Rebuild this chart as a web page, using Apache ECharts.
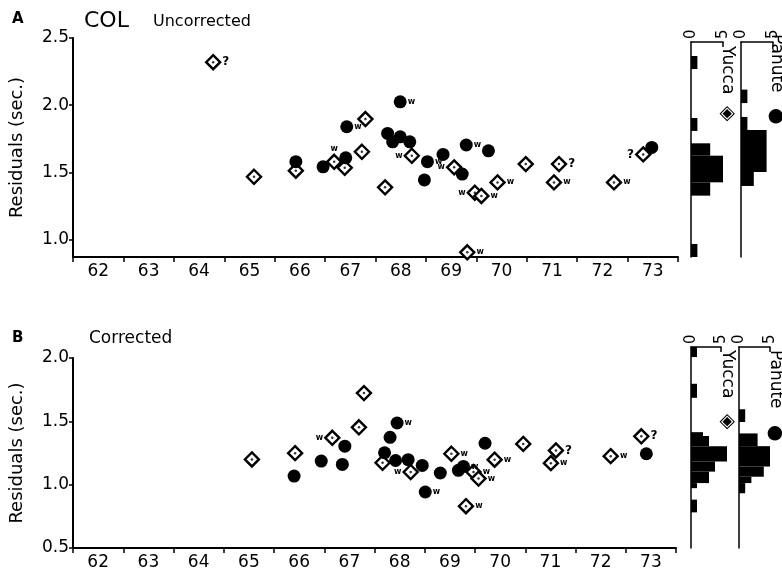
<!DOCTYPE html>
<html>
<head>
<meta charset="utf-8">
<script src="https://cdn.jsdelivr.net/npm/echarts@6/dist/echarts.min.js"></script>
<style>
  html, body { margin: 0; padding: 0; background: #fff; }
  #chart { width: 782px; height: 575px; }
</style>
</head>
<body>
<div id="chart"></div>
<script>
// 年份刻度（刻度在整数年，标签在年中）
const yearTicks = [62, 63, 64, 65, 66, 67, 68, 69, 70, 71, 72, 73, 74];
const yearLabels = [62.5, 63.5, 64.5, 65.5, 66.5, 67.5, 68.5, 69.5, 70.5, 71.5, 72.5, 73.5];
const residTicksA = [1.0, 1.5, 2.0, 2.5];
const residTicksB = [0.5, 1.0, 1.5, 2.0];
const countTicks = [0, 5];

// 点数据：[年份, 残差, 标注, 标注位置]
const yuccaA = [
  [64.78, 2.32, '?', 'right'], [65.59, 1.468, '', ''], [66.42, 1.513, '', ''],
  [67.18, 1.579, 'w', 'top'], [67.39, 1.535, '', ''], [67.73, 1.654, '', ''],
  [67.80, 1.897, '', ''], [68.19, 1.389, '', ''], [68.72, 1.624, 'w', 'left'],
  [69.56, 1.538, 'w', 'left'], [69.97, 1.349, 'w', 'left'], [70.10, 1.325, 'w', 'right'],
  [70.42, 1.426, 'w', 'right'], [70.98, 1.562, '', ''], [71.64, 1.562, '?', 'right'],
  [71.54, 1.426, 'w', 'right'], [72.73, 1.426, 'w', 'right'], [73.31, 1.634, '?', 'left'],
  [69.82, 0.906, 'w', 'right']
];
const pahuteA = [
  [66.42, 1.580, '', ''], [66.96, 1.542, '', ''], [67.43, 1.840, 'w', 'right'],
  [67.41, 1.609, '', ''], [68.49, 2.025, 'w', 'right'], [68.24, 1.790, '', ''],
  [68.34, 1.728, '', ''], [68.49, 1.765, '', ''], [68.68, 1.728, '', ''],
  [69.03, 1.580, 'w', 'right'], [69.34, 1.634, '', ''], [68.97, 1.444, '', ''],
  [69.72, 1.488, '', ''], [69.80, 1.704, 'w', 'right'], [70.24, 1.661, '', ''],
  [73.48, 1.686, '', '']
];
const yuccaB = [
  [64.77, 2.011, '?', 'right'], [65.56, 1.199, '', ''], [66.42, 1.249, '', ''],
  [67.16, 1.370, 'w', 'left'], [67.69, 1.453, '', ''], [67.79, 1.723, '', ''],
  [68.16, 1.173, '', ''], [68.72, 1.100, 'w', 'left'], [69.53, 1.244, 'w', 'right'],
  [69.97, 1.100, 'w', 'right'], [70.07, 1.048, 'w', 'right'], [70.39, 1.197, 'w', 'right'],
  [70.96, 1.322, '', ''], [71.61, 1.270, '?', 'right'], [71.51, 1.170, 'w', 'right'],
  [72.70, 1.225, 'w', 'right'], [73.31, 1.382, '?', 'right'], [69.82, 0.830, 'w', 'right']
];
const pahuteB = [
  [66.40, 1.068, '', ''], [66.94, 1.186, '', ''], [67.36, 1.160, '', ''],
  [67.41, 1.304, '', ''], [68.20, 1.252, '', ''], [68.31, 1.374, '', ''],
  [68.45, 1.487, 'w', 'right'], [68.42, 1.191, '', ''], [68.67, 1.197, '', ''],
  [68.95, 1.152, '', ''], [69.01, 0.942, 'w', 'right'], [69.31, 1.092, '', ''],
  [69.67, 1.113, '', ''], [69.77, 1.144, 'w', 'right'], [70.20, 1.327, '', ''],
  [73.41, 1.244, '', '']
];

// 直方图：[区间上界, 区间下界, 个数]
const yuccaHistA = [
  [2.365, 2.268, 1], [1.904, 1.808, 1], [1.716, 1.624, 3],
  [1.624, 1.426, 5], [1.426, 1.327, 3], [0.968, 0.871, 1]
];
const pahuteHistA = [
  [2.115, 2.015, 1], [1.912, 1.815, 1], [1.815, 1.503, 4], [1.503, 1.399, 2]
];
const yuccaHistB = [
  [2.08, 2.00, 1], [1.79, 1.68, 1], [1.41, 1.38, 2], [1.38, 1.30, 3],
  [1.30, 1.18, 6], [1.18, 1.10, 4], [1.10, 1.01, 3], [1.01, 0.97, 1], [0.88, 0.78, 1]
];
const pahuteHistB = [
  [1.59, 1.49, 1], [1.40, 1.30, 3], [1.30, 1.14, 5], [1.14, 1.06, 4],
  [1.06, 1.01, 2], [1.01, 0.93, 1]
];

const FONT = 'DejaVu Sans';
const chart = echarts.init(document.getElementById('chart'));

function points(rows) {
  return rows.map(r => ({
    value: [r[0], r[1]],
    label: {
      show: r[2] !== '',
      formatter: r[2],
      position: r[3] || 'right',
      distance: 1,
      color: '#000',
      fontFamily: FONT,
      fontWeight: 'bold',
      fontSize: r[2] === '?' ? 12 : 8
    }
  }));
}

function yearAxis(grid) {
  return {
    type: 'value', gridIndex: grid, min: 62, max: 74,
    axisLine: { onZero: false, lineStyle: { color: '#000', width: 2 } },
    axisTick: { customValues: yearTicks, length: 5, lineStyle: { color: '#000', width: 1.5 } },
    axisLabel: {
      customValues: yearLabels, formatter: v => String(Math.floor(v)),
      color: '#000', fontFamily: FONT, fontSize: 17, margin: 6
    },
    splitLine: { show: false }
  };
}

function residAxis(grid, min, max, ticks) {
  return {
    type: 'value', gridIndex: grid, min: min, max: max,
    name: 'Residuals (sec.)', nameLocation: 'middle', nameGap: 47,
    nameTextStyle: { color: '#000', fontFamily: FONT, fontSize: 18 },
    axisLine: { onZero: false, lineStyle: { color: '#000', width: 2 } },
    axisTick: { customValues: ticks, length: 4, lineStyle: { color: '#000', width: 1.5 } },
    axisLabel: {
      customValues: ticks, formatter: v => v.toFixed(1),
      color: '#000', fontFamily: FONT, fontSize: 17, margin: 4
    },
    splitLine: { show: false }
  };
}

function countAxis(grid) {
  return {
    type: 'value', gridIndex: grid, min: 0, max: 5, position: 'top',
    axisLine: { onZero: false, lineStyle: { color: '#000', width: 1.5 } },
    axisTick: { customValues: [5], inside: true, length: 5, lineStyle: { color: '#000', width: 1.5 } },
    axisLabel: {
      customValues: countTicks, rotate: -90, margin: 3,
      color: '#000', fontFamily: FONT, fontSize: 15
    },
    splitLine: { show: false }
  };
}

function histAxis(grid, min, max) {
  return {
    type: 'value', gridIndex: grid, min: min, max: max,
    axisLine: { onZero: false, lineStyle: { color: '#000', width: 1.5 } },
    axisTick: { show: false }, axisLabel: { show: false }, splitLine: { show: false }
  };
}

function histSeries(data, axis) {
  return {
    type: 'custom', xAxisIndex: axis, yAxisIndex: axis, clip: false,
    data: data,
    renderItem: (params, api) => {
      const p0 = api.coord([0, api.value(0)]);
      const p1 = api.coord([api.value(2), api.value(1)]);
      return {
        type: 'rect',
        shape: { x: p0[0], y: p0[1], width: p1[0] - p0[0], height: p1[1] - p0[1] },
        style: { fill: '#000' }
      };
    }
  };
}

function diamondSeries(rows, axis) {
  return [{
    type: 'scatter', xAxisIndex: axis, yAxisIndex: axis,
    symbol: 'diamond', symbolSize: 14,
    itemStyle: { color: '#fff', borderColor: '#000', borderWidth: 2.4, opacity: 1 },
    data: points(rows), z: 2
  }, {
    type: 'scatter', xAxisIndex: axis, yAxisIndex: axis, silent: true,
    symbol: 'circle', symbolSize: 2.5, itemStyle: { color: '#000' },
    data: rows.map(r => [r[0], r[1]]), z: 3
  }];
}

function circleSeries(rows, axis) {
  return {
    type: 'scatter', xAxisIndex: axis, yAxisIndex: axis,
    symbol: 'circle', symbolSize: 13,
    itemStyle: { color: '#000', opacity: 1 },
    data: points(rows), z: 4
  };
}

function vtext(x, y, text, size) {
  return {
    type: 'text', x: x, y: y, rotation: -Math.PI / 2,
    style: { text: text, fill: '#000', font: size + 'px "' + FONT + '"', textAlign: 'left', textVerticalAlign: 'middle' }
  };
}

const option = {
  animation: false,
  backgroundColor: '#fff',
  title: [
    { text: 'A', left: 7, top: 7, textStyle: { fontFamily: FONT, fontSize: 15, fontWeight: 'bold', color: '#000' } },
    { text: 'COL', left: 79, top: 5, textStyle: { fontFamily: FONT, fontSize: 22, fontWeight: 'normal', color: '#000' } },
    { text: 'Uncorrected', left: 148, top: 9, textStyle: { fontFamily: FONT, fontSize: 16, fontWeight: 'normal', color: '#000' } },
    { text: 'B', left: 7, top: 326, textStyle: { fontFamily: FONT, fontSize: 15, fontWeight: 'bold', color: '#000' } },
    { text: 'Corrected', left: 84, top: 325, textStyle: { fontFamily: FONT, fontSize: 17, fontWeight: 'normal', color: '#000' } }
  ],
  grid: [
    { left: 73, top: 38, width: 605, height: 219 },
    { left: 73, top: 358, width: 603, height: 190 },
    { left: 691, top: 42, width: 32, height: 215 },
    { left: 741, top: 42, width: 32, height: 215 },
    { left: 691, top: 347, width: 30, height: 201 },
    { left: 739, top: 347, width: 31, height: 201 }
  ],
  xAxis: [yearAxis(0), yearAxis(1), countAxis(2), countAxis(3), countAxis(4), countAxis(5)],
  yAxis: [
    residAxis(0, 0.871, 2.5, residTicksA),
    residAxis(1, 0.5, 2.0, residTicksB),
    histAxis(2, 0.871, 2.469), histAxis(3, 0.871, 2.469),
    histAxis(4, 0.5, 2.079), histAxis(5, 0.5, 2.079)
  ],
  series: [
    ...diamondSeries(yuccaA, 0),
    circleSeries(pahuteA, 0),
    ...diamondSeries(yuccaB, 1),
    circleSeries(pahuteB, 1),
    histSeries(yuccaHistA, 2),
    histSeries(pahuteHistA, 3),
    histSeries(yuccaHistB, 4),
    histSeries(pahuteHistB, 5)
  ],
  graphic: [
    vtext(727, 46, 'Yucca', 17), vtext(727, 106, '◈', 20),
    vtext(776, 34, 'Pahute', 17), vtext(776, 108, '●', 19),
    vtext(727, 350, 'Yucca', 17), vtext(727, 414, '◈', 20),
    vtext(775, 350, 'Pahute', 17), vtext(775, 425, '●', 19)
  ]
};

chart.setOption(option);
</script>
</body>
</html>
